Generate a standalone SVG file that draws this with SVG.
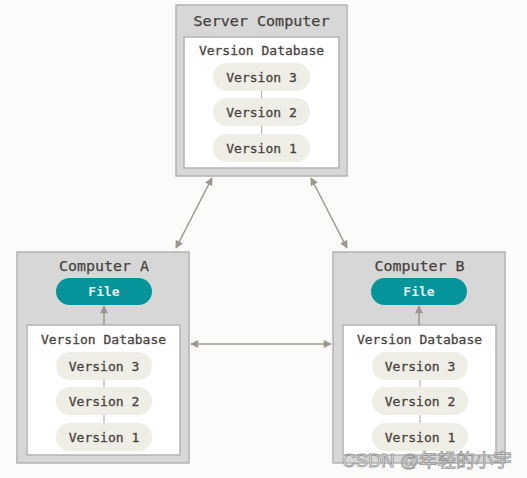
<svg xmlns="http://www.w3.org/2000/svg" width="527" height="478" viewBox="0 0 527 478">
<style>
.bg{fill:#fbfbf9}
.outer{fill:#d7d7d7;stroke:#b3b3b3;stroke-width:1.5}
.inner{fill:#ffffff;stroke:#b3b3b3;stroke-width:1.5}
.pill{fill:#eeede6}
.file{fill:#05949a}
.title{font-family:"DejaVu Sans Mono",monospace;font-size:14.5px;fill:#48433e;stroke:#48433e;stroke-width:0.25;text-anchor:middle}
.lbl{font-family:"DejaVu Sans Mono",monospace;font-size:13px;fill:#48433e;stroke:#48433e;stroke-width:0.3;text-anchor:middle}
.ftxt{font-family:"DejaVu Sans Mono",monospace;font-size:13px;fill:#e6f3f3;text-anchor:middle;font-weight:bold}
.tick{stroke:#b8b5ae;stroke-width:1.2}
.conn{stroke:#9d978f;stroke-width:1.5;fill:none}
.wm{font-family:"Liberation Sans","Noto Sans CJK SC",sans-serif;font-size:18.5px;fill:#ffffff;stroke:#8a8a8a;stroke-width:0.8;opacity:0.9}
</style>
<defs>
<marker id="ah" viewBox="0 0 10 10" refX="9" refY="5" markerWidth="10" markerHeight="8" markerUnits="userSpaceOnUse" orient="auto-start-reverse">
<path d="M0,0 L10,5 L0,10 z" fill="#9d978f"/>
</marker>
</defs>
<rect class="bg" x="0" y="0" width="527" height="478"/>

<g id="server">
<rect class="outer" x="176" y="5" width="171" height="171"/>
<text class="title" x="261.5" y="26" textLength="136" lengthAdjust="spacingAndGlyphs">Server Computer</text>
<rect class="inner" x="184" y="37" width="155" height="131"/>
<text class="lbl" x="261.5" y="55">Version Database</text>
<line class="tick" x1="261.5" y1="91" x2="261.5" y2="98"/>
<line class="tick" x1="261.5" y1="126" x2="261.5" y2="134"/>
<rect class="pill" x="213" y="63" width="97" height="28" rx="14"/>
<text class="lbl" x="261.5" y="81.5">Version 3</text>
<rect class="pill" x="213" y="98" width="97" height="28" rx="14"/>
<text class="lbl" x="261.5" y="116.5">Version 2</text>
<rect class="pill" x="213" y="134" width="97" height="28" rx="14"/>
<text class="lbl" x="261.5" y="152.5">Version 1</text>
</g>

<g id="computerA">
<rect class="outer" x="17" y="252" width="172" height="211"/>
<text class="title" x="104" y="271" textLength="90" lengthAdjust="spacingAndGlyphs">Computer A</text>
<rect class="file" x="56" y="278" width="96" height="27" rx="13.5"/>
<text class="ftxt" x="104" y="296">File</text>
<rect class="inner" x="27" y="325" width="153" height="130"/>
<text class="lbl" x="103.5" y="344">Version Database</text>
<line class="tick" x1="104" y1="380" x2="104" y2="387"/>
<line class="tick" x1="104" y1="415" x2="104" y2="423"/>
<rect class="pill" x="56" y="352" width="96" height="28" rx="14"/>
<text class="lbl" x="104" y="370.5">Version 3</text>
<rect class="pill" x="56" y="387" width="96" height="28" rx="14"/>
<text class="lbl" x="104" y="405.5">Version 2</text>
<rect class="pill" x="56" y="423" width="96" height="28" rx="14"/>
<text class="lbl" x="104" y="441.5">Version 1</text>
</g>

<g id="computerB">
<rect class="outer" x="333" y="252" width="172" height="211"/>
<text class="title" x="419.5" y="271" textLength="90" lengthAdjust="spacingAndGlyphs">Computer B</text>
<rect class="file" x="371" y="278" width="96" height="27" rx="13.5"/>
<text class="ftxt" x="419" y="296">File</text>
<rect class="inner" x="343" y="325" width="153" height="130"/>
<text class="lbl" x="419.5" y="344">Version Database</text>
<line class="tick" x1="420" y1="380" x2="420" y2="387"/>
<line class="tick" x1="420" y1="415" x2="420" y2="423"/>
<rect class="pill" x="372" y="352" width="96" height="28" rx="14"/>
<text class="lbl" x="420" y="370.5">Version 3</text>
<rect class="pill" x="372" y="387" width="96" height="28" rx="14"/>
<text class="lbl" x="420" y="405.5">Version 2</text>
<rect class="pill" x="372" y="423" width="96" height="28" rx="14"/>
<text class="lbl" x="420" y="441.5">Version 1</text>
</g>

<g id="connectors">
<line class="conn" x1="212" y1="178" x2="176" y2="248" marker-start="url(#ah)" marker-end="url(#ah)"/>
<line class="conn" x1="311" y1="178" x2="347" y2="248" marker-start="url(#ah)" marker-end="url(#ah)"/>
<line class="conn" x1="191" y1="344" x2="331" y2="344" marker-start="url(#ah)" marker-end="url(#ah)"/>
<line class="conn" x1="104" y1="325" x2="104" y2="306" marker-end="url(#ah)"/>
<line class="conn" x1="419" y1="325" x2="419" y2="306" marker-end="url(#ah)"/>
</g>

<text class="wm" x="342" y="467" textLength="170" lengthAdjust="spacingAndGlyphs">CSDN @年轻的小宇</text>
</svg>
